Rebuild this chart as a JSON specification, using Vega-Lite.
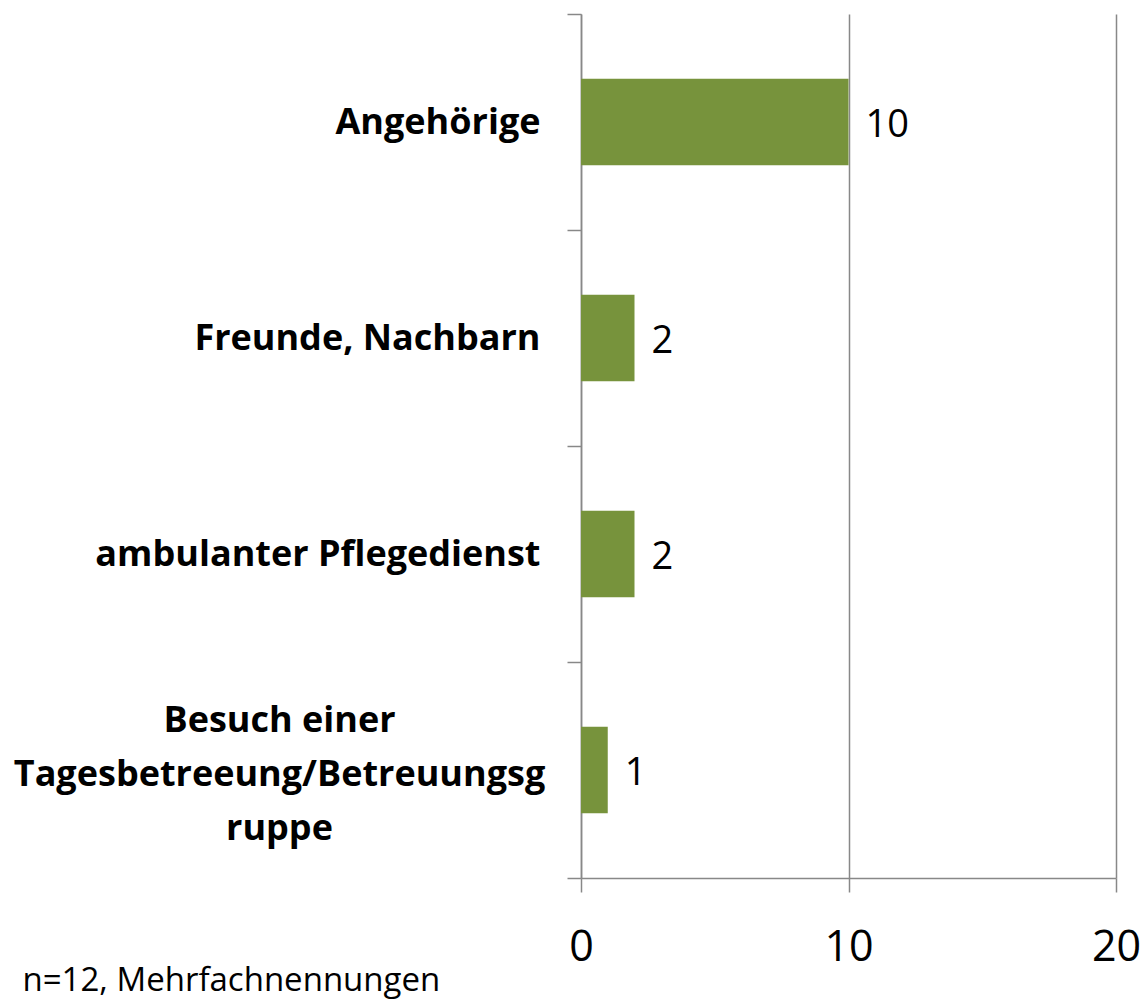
{
  "$schema": "https://vega.github.io/schema/vega-lite/v6.json",
  "autosize": {"type": "none"},
  "padding": {"left": 581, "top": 14, "right": 30, "bottom": 121},
  "width": 535,
  "height": 864,
  "background": "#ffffff",
  "config": {
    "view": {"stroke": null},
    "font": "Open Sans"
  },
  "data": {
    "values": [
      {"kategorie": "Angehörige", "anzahl": 10},
      {"kategorie": "Freunde, Nachbarn", "anzahl": 2},
      {"kategorie": "ambulanter Pflegedienst", "anzahl": 2},
      {"kategorie": "Besuch einer Tagesbetreeung/Betreuungsgruppe", "anzahl": 1}
    ]
  },
  "encoding": {
    "y": {
      "field": "kategorie",
      "type": "nominal",
      "sort": null,
      "scale": {"paddingInner": 0, "paddingOuter": 0},
      "axis": {
        "title": null,
        "tickBand": "extent",
        "tickSize": 14,
        "tickColor": "#888888",
        "tickWidth": 1.5,
        "domainColor": "#888888",
        "domainWidth": 1.5,
        "labelFont": "Open Sans",
        "labelFontWeight": "bold",
        "labelFontSize": 36,
        "labelColor": "#000000",
        "labelLimit": 700,
        "labelLineHeight": 54,
        "labelExpr": "datum.value == 'Besuch einer Tagesbetreeung/Betreuungsgruppe' ? ['Besuch einer', 'Tagesbetreeung/Betreuungsg', 'ruppe'] : datum.label",
        "labelAlign": {
          "condition": {"test": "datum.value == 'Besuch einer Tagesbetreeung/Betreuungsgruppe'", "value": "center"},
          "value": "right"
        },
        "labelPadding": {
          "condition": {"test": "datum.value == 'Besuch einer Tagesbetreeung/Betreuungsgruppe'", "value": 288},
          "value": 27
        },
        "labelOffset": {
          "condition": {"test": "datum.value == 'Besuch einer Tagesbetreeung/Betreuungsgruppe'", "value": -50},
          "value": 0
        }
      }
    }
  },
  "layer": [
    {
      "mark": {"type": "bar", "color": "#77933C", "height": {"band": 0.4}},
      "encoding": {
        "x": {
          "field": "anzahl",
          "type": "quantitative",
          "scale": {"domain": [0, 20]},
          "axis": {
            "values": [0, 10, 20],
            "grid": true,
            "gridColor": "#888888",
            "gridWidth": 1.5,
            "tickSize": 14,
            "tickColor": "#888888",
            "tickWidth": 1.5,
            "domainColor": "#888888",
            "domainWidth": 1.5,
            "labelFont": "Open Sans",
            "labelFontSize": 43,
            "labelColor": "#000000",
            "labelPadding": 34,
            "labelFlush": false,
            "title": "n=12, Mehrfachnennungen",
            "titleFont": "Open Sans",
            "titleFontSize": 33,
            "titleFontWeight": "normal",
            "titleColor": "#000000",
            "titleAlign": "left",
            "titleBaseline": "alphabetic",
            "titleAnchor": "start",
            "titleX": -559,
            "titleY": 112
          }
        }
      }
    },
    {
      "mark": {
        "type": "text",
        "align": "left",
        "baseline": "middle",
        "dx": 17,
        "dy": 4,
        "font": "Open Sans",
        "fontSize": 38,
        "color": "#000000"
      },
      "encoding": {
        "x": {"field": "anzahl", "type": "quantitative"},
        "text": {"field": "anzahl", "type": "quantitative"}
      }
    }
  ]
}
